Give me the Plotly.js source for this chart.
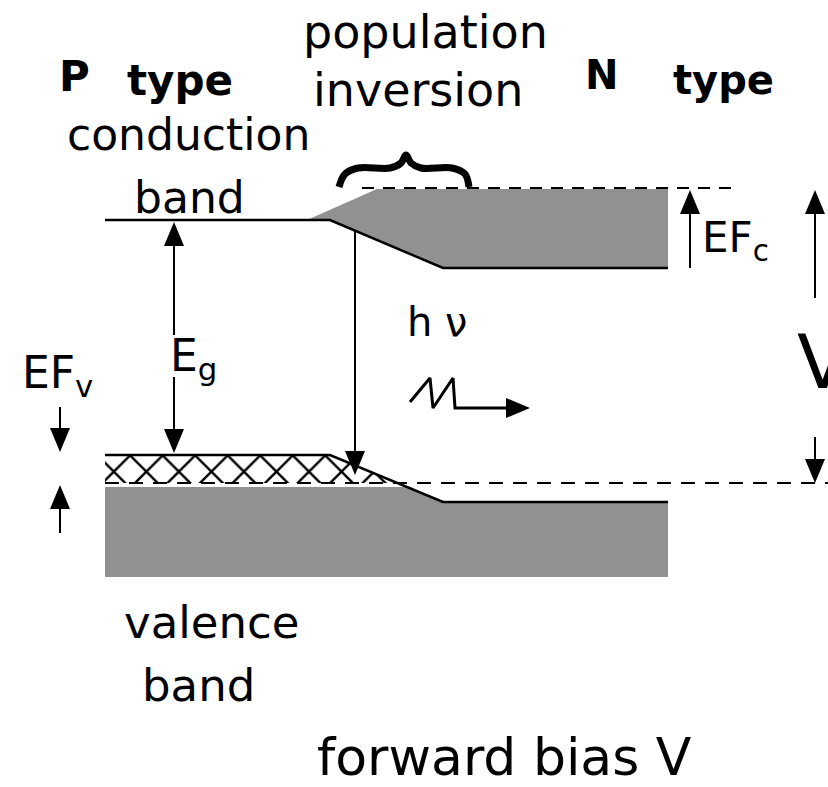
<!DOCTYPE html>
<html><head><meta charset="utf-8">
<script src="https://cdn.plot.ly/plotly-3.0.1.min.js"></script>
<style>html,body{margin:0;padding:0;background:#fff;overflow:hidden}#chart{width:828px;height:787px}</style>
</head><body><div id="chart"></div>
<script>
// ---- diagram data (x: position across the junction, y: energy level, drawn downward) ----
const bandEdgeX = [105, 330, 443, 668];
const conductionEdgeY = [220, 220, 268, 268];
const valenceEdgeY = [455, 455, 502, 502];

const electronFillX = [307, 377, 668, 668, 443, 330, 307];
const electronFillY = [220, 189, 189, 268, 268, 220, 220];
const holeFillX = [105, 332, 398, 105, 105];
const holeFillY = [455, 455, 483, 483, 455];
const valenceFillX = [105, 408, 443, 668, 668, 105, 105];
const valenceFillY = [487, 487, 502, 502, 577, 577, 487];

const fermiCX = [362, 735];
const fermiCY = [188, 188];
const fermiVX = [105, 828];
const fermiVY = [483, 483];

const braceX = [339, 345, 358, 390, 401, 406, 411, 421, 452, 465, 469];
const braceY = [187, 174, 168, 168, 163, 155, 163, 168, 168, 174, 187];

const photonX = [410, 430, 433, 453, 455, 507];
const photonY = [402, 378, 408, 378, 408, 408];
const photonTip = [530, 408];

// vertical arrows: x, start y, tip y
const arrowX      = [174, 174, 60, 60, 355, 690, 815, 815];
const arrowStartY = [335, 377, 407, 533, 230, 268, 298, 437];
const arrowTipY   = [222, 453, 452, 485, 475, 190, 190, 483];

const labelText = ['P', 'type', 'N', 'type', 'population', 'inversion', 'conduction', 'band',
  'EF<sub>c</sub>', 'h \u03bd', 'E<sub>g</sub>', 'EF<sub>v</sub>', 'V', 'valence', 'band', 'forward bias V'];
const labelX = [74, 180, 601, 723, 425, 418, 188, 189, 700, 405, 168, 20, 795, 211, 198, 504];
const labelY = [76, 80, 75, 80, 32, 90, 134, 197, 240, 322, 358, 375, 362, 622, 685, 757];

// ---- styles ----
const gray = 'rgb(145,145,145)';
const AW = 20, AL = 24;
const labelStyle = [
  {s:42,b:1,a:'center'},{s:42,b:1,a:'center'},{s:40,b:1,a:'center'},{s:40,b:1,a:'center'},
  {s:46,a:'center'},{s:46,a:'center'},{s:44,a:'center'},{s:44,a:'center'},
  {s:42,a:'left'},{s:40,a:'left'},{s:44,a:'left'},{s:44,a:'left'},{s:75,a:'left'},
  {s:45,a:'center'},{s:45,a:'center'},{s:52,a:'center'}
];

const traces = [];
function poly(x, y, extra) {
  traces.push(Object.assign({type:'scatter', mode:'lines', x:x, y:y, hoverinfo:'skip', showlegend:false}, extra));
}
poly(valenceFillX, valenceFillY, {fill:'toself', fillcolor:gray, line:{width:0, color:gray}});
poly(electronFillX, electronFillY, {fill:'toself', fillcolor:gray, line:{width:0, color:gray}});
poly(holeFillX, holeFillY, {fill:'toself', fillcolor:'white',
  fillpattern:{shape:'x', size:23, solidity:0.2, fgcolor:'black', bgcolor:'white'}, line:{width:0, color:'white'}});
poly(fermiCX, fermiCY, {line:{color:'black', width:2, dash:'12px,9px'}});
poly(fermiVX, fermiVY, {line:{color:'black', width:2, dash:'14px,10px'}});
poly(bandEdgeX, conductionEdgeY, {line:{color:'black', width:2.5}});
poly(bandEdgeX, valenceEdgeY, {line:{color:'black', width:2.5}});
poly(braceX, braceY, {line:{color:'black', width:7, shape:'spline', smoothing:1}});
poly(photonX.concat([photonTip[0]-AL*0.6]), photonY.concat([photonTip[1]]), {line:{color:'black', width:3}});
poly([photonTip[0], photonTip[0]-AL, photonTip[0]-AL, photonTip[0]],
     [photonTip[1], photonTip[1]-AW/2, photonTip[1]+AW/2, photonTip[1]],
     {fill:'toself', fillcolor:'black', line:{width:0, color:'black'}});

for (let i = 0; i < arrowX.length; i++) {
  const x = arrowX[i], y0 = arrowStartY[i], yt = arrowTipY[i];
  const d = yt > y0 ? 1 : -1;
  poly([x, x], [y0, yt - d*AL*0.6], {line:{color:'black', width:2}});
  poly([x, x - AW/2, x + AW/2, x], [yt, yt - d*AL, yt - d*AL, yt],
       {fill:'toself', fillcolor:'black', line:{width:0, color:'black'}});
}

const annotations = labelText.map((t, i) => ({
  text: labelStyle[i].b ? '<b>' + t + '</b>' : t,
  x: labelX[i], y: labelY[i], xref:'x', yref:'y', showarrow:false,
  xanchor: labelStyle[i].a, yanchor:'middle',
  font:{family:'DejaVu Sans', size:labelStyle[i].s, color:'black'}
}));

const layout = {
  width:828, height:787, margin:{l:0,r:0,t:0,b:0},
  paper_bgcolor:'white', plot_bgcolor:'white',
  xaxis:{range:[0,828], visible:false, fixedrange:true},
  yaxis:{range:[787,0], visible:false, fixedrange:true},
  annotations: annotations, showlegend:false
};
Plotly.newPlot('chart', traces, layout, {staticPlot:true, displayModeBar:false});
</script></body></html>
